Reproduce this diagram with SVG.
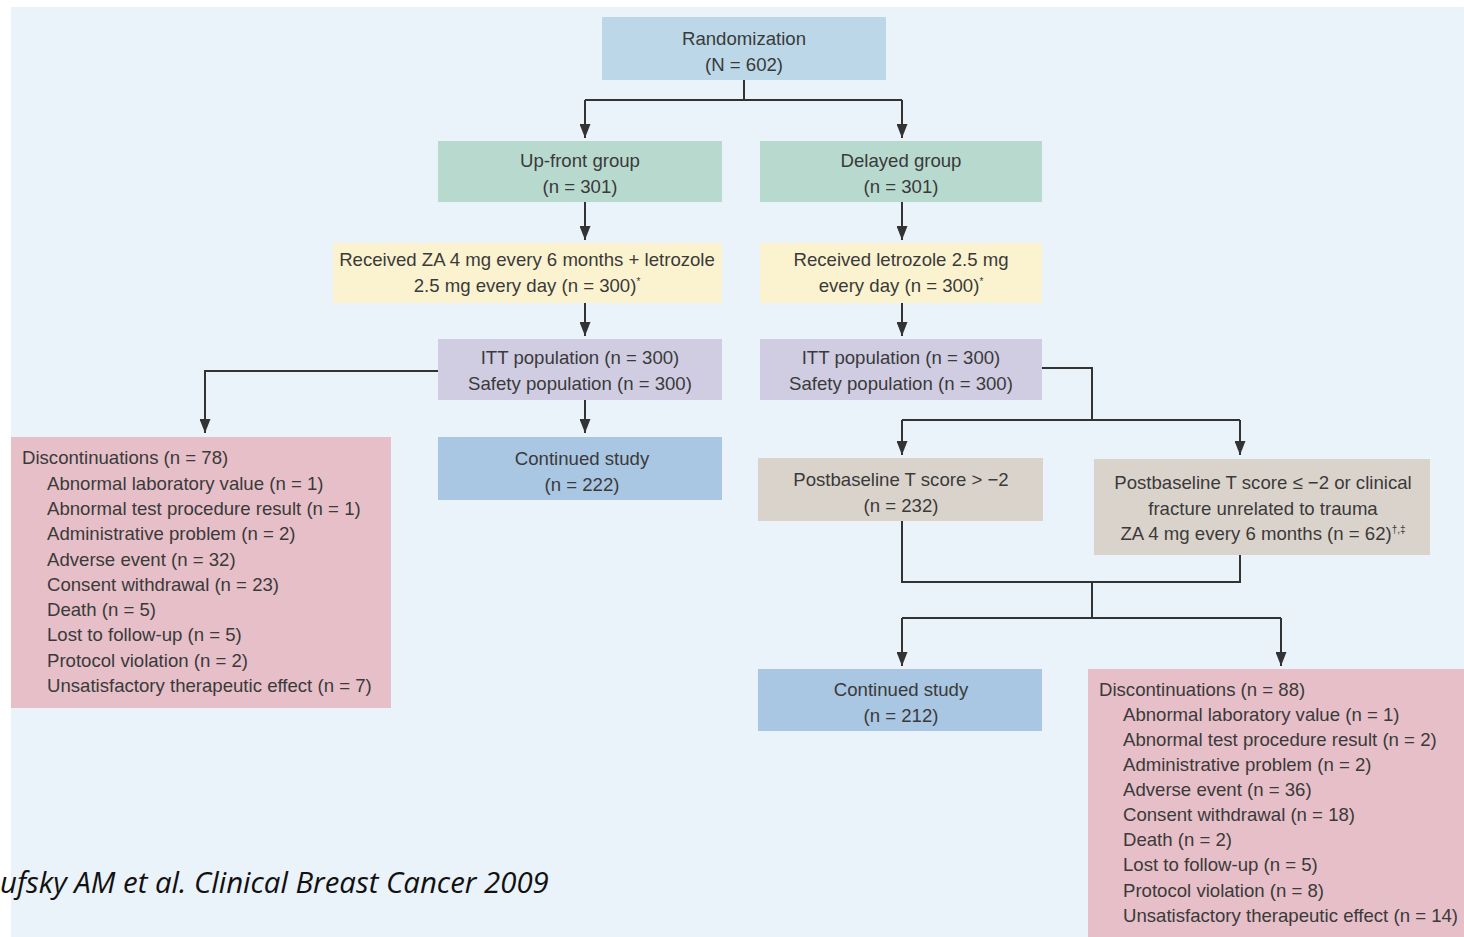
<svg xmlns="http://www.w3.org/2000/svg" width="1464" height="937" viewBox="0 0 1464 937">
<defs>
<marker id="ah" viewBox="0 0 14 11" refX="14" refY="5.5" markerWidth="14" markerHeight="11" markerUnits="userSpaceOnUse" orient="auto">
<path d="M0,0 L14,5.5 L0,11 Z" fill="#333"/>
</marker>
</defs>
<style>
.t{font-family:"Liberation Sans",Arial,sans-serif;font-size:18.6px;fill:#3a3a3a;}
.c{text-anchor:middle;}
.ln{fill:none;stroke:#333;stroke-width:2;}
.sup{font-size:10px;}
.blue{fill:#bcd8e8;}
.green{fill:#b8d9cd;}
.yellow{fill:#fbf3cf;}
.purple{fill:#d0cde2;}
.pink{fill:#e6bfc8;}
.cont{fill:#a9c6e2;}
.taupe{fill:#dad3cc;}
</style>
<rect x="0" y="0" width="1464" height="937" fill="#ffffff"/>
<rect x="11" y="7" width="1453" height="930" fill="#eaf2fa"/>

<g id="connectors">
<path class="ln" d="M744,80 V100 M585,100 H902"/>
<path class="ln" d="M585,100 V138" marker-end="url(#ah)"/>
<path class="ln" d="M902,100 V138" marker-end="url(#ah)"/>
<path class="ln" d="M585,202 V240" marker-end="url(#ah)"/>
<path class="ln" d="M902,202 V240" marker-end="url(#ah)"/>
<path class="ln" d="M585,303 V336" marker-end="url(#ah)"/>
<path class="ln" d="M902,303 V336" marker-end="url(#ah)"/>
<path class="ln" d="M438,371 H205 V433" marker-end="url(#ah)"/>
<path class="ln" d="M585,400 V433" marker-end="url(#ah)"/>
<path class="ln" d="M1042,368 H1092 V420 M902,420 H1240"/>
<path class="ln" d="M902,420 V455" marker-end="url(#ah)"/>
<path class="ln" d="M1240,420 V455" marker-end="url(#ah)"/>
<path class="ln" d="M902,521 V582 H1240 V555 M1092,582 V618 M902,618 H1281"/>
<path class="ln" d="M902,618 V666" marker-end="url(#ah)"/>
<path class="ln" d="M1281,618 V666" marker-end="url(#ah)"/>
</g>

<g id="randomization">
<rect class="blue" x="602" y="17" width="284" height="63"/>
<text class="t c" x="744" y="45">Randomization</text>
<text class="t c" x="744" y="71">(N = 602)</text>
</g>

<g id="upfront">
<rect class="green" x="438" y="141" width="284" height="61"/>
<text class="t c" x="580" y="167">Up-front group</text>
<text class="t c" x="580" y="193">(n = 301)</text>
</g>

<g id="delayed">
<rect class="green" x="760" y="141" width="282" height="61"/>
<text class="t c" x="901" y="167">Delayed group</text>
<text class="t c" x="901" y="193">(n = 301)</text>
</g>

<g id="received-upfront">
<rect class="yellow" x="333" y="243" width="389" height="60"/>
<text class="t c" x="527" y="266">Received ZA 4 mg every 6 months + letrozole</text>
<text class="t c" x="527" y="292">2.5 mg every day  (n = 300)<tspan class="sup" dy="-7">*</tspan></text>
</g>

<g id="received-delayed">
<rect class="yellow" x="760" y="243" width="282" height="60"/>
<text class="t c" x="901" y="266">Received letrozole 2.5 mg</text>
<text class="t c" x="901" y="292">every day (n = 300)<tspan class="sup" dy="-7">*</tspan></text>
</g>

<g id="itt-upfront">
<rect class="purple" x="438" y="339" width="284" height="61"/>
<text class="t c" x="580" y="364">ITT population (n = 300)</text>
<text class="t c" x="580" y="390">Safety population (n = 300)</text>
</g>

<g id="itt-delayed">
<rect class="purple" x="760" y="339" width="282" height="61"/>
<text class="t c" x="901" y="364">ITT population (n = 300)</text>
<text class="t c" x="901" y="390">Safety population (n = 300)</text>
</g>

<g id="disc-upfront">
<rect class="pink" x="11" y="437" width="380" height="271"/>
<text class="t" x="22" y="464">Discontinuations (n = 78)</text>
<text class="t" x="47" y="490">Abnormal laboratory value (n = 1)</text>
<text class="t" x="47" y="515">Abnormal test procedure result (n = 1)</text>
<text class="t" x="47" y="540">Administrative problem (n = 2)</text>
<text class="t" x="47" y="566">Adverse event (n = 32)</text>
<text class="t" x="47" y="591">Consent withdrawal (n = 23)</text>
<text class="t" x="47" y="616">Death (n = 5)</text>
<text class="t" x="47" y="641">Lost to follow-up (n = 5)</text>
<text class="t" x="47" y="667">Protocol violation (n = 2)</text>
<text class="t" x="47" y="692">Unsatisfactory therapeutic effect (n = 7)</text>
</g>

<g id="continued-upfront">
<rect class="cont" x="438" y="437" width="284" height="63"/>
<text class="t c" x="582" y="465">Continued study</text>
<text class="t c" x="582" y="491">(n = 222)</text>
</g>

<g id="tscore-high">
<rect class="taupe" x="758" y="458" width="285" height="63"/>
<text class="t c" x="901" y="486">Postbaseline T score &gt; −2</text>
<text class="t c" x="901" y="512">(n = 232)</text>
</g>

<g id="tscore-low">
<rect class="taupe" x="1094" y="459" width="336" height="96"/>
<text class="t c" x="1263" y="489">Postbaseline T score ≤ −2 or clinical</text>
<text class="t c" x="1263" y="515">fracture unrelated to trauma</text>
<text class="t c" x="1263" y="540">ZA 4 mg every 6 months (n = 62)<tspan class="sup" dy="-7">†,‡</tspan></text>
</g>

<g id="continued-delayed">
<rect class="cont" x="758" y="669" width="284" height="62"/>
<text class="t c" x="901" y="696">Continued study</text>
<text class="t c" x="901" y="722">(n = 212)</text>
</g>

<g id="disc-delayed">
<rect class="pink" x="1088" y="669" width="376" height="268"/>
<text class="t" x="1099" y="696">Discontinuations (n = 88)</text>
<text class="t" x="1123" y="721">Abnormal laboratory value (n = 1)</text>
<text class="t" x="1123" y="746">Abnormal test procedure result (n = 2)</text>
<text class="t" x="1123" y="771">Administrative problem (n = 2)</text>
<text class="t" x="1123" y="796">Adverse event (n = 36)</text>
<text class="t" x="1123" y="821">Consent withdrawal (n = 18)</text>
<text class="t" x="1123" y="846">Death (n = 2)</text>
<text class="t" x="1123" y="871">Lost to follow-up (n = 5)</text>
<text class="t" x="1123" y="897">Protocol violation (n = 8)</text>
<text class="t" x="1123" y="922">Unsatisfactory therapeutic effect (n = 14)</text>
</g>

<g id="citation">
<text x="0" y="893" style="font-family:'Open Sans','Liberation Sans',sans-serif;font-style:italic;font-size:29.4px;fill:#111;">ufsky AM et al. Clinical Breast Cancer 2009</text>
</g>
</svg>
